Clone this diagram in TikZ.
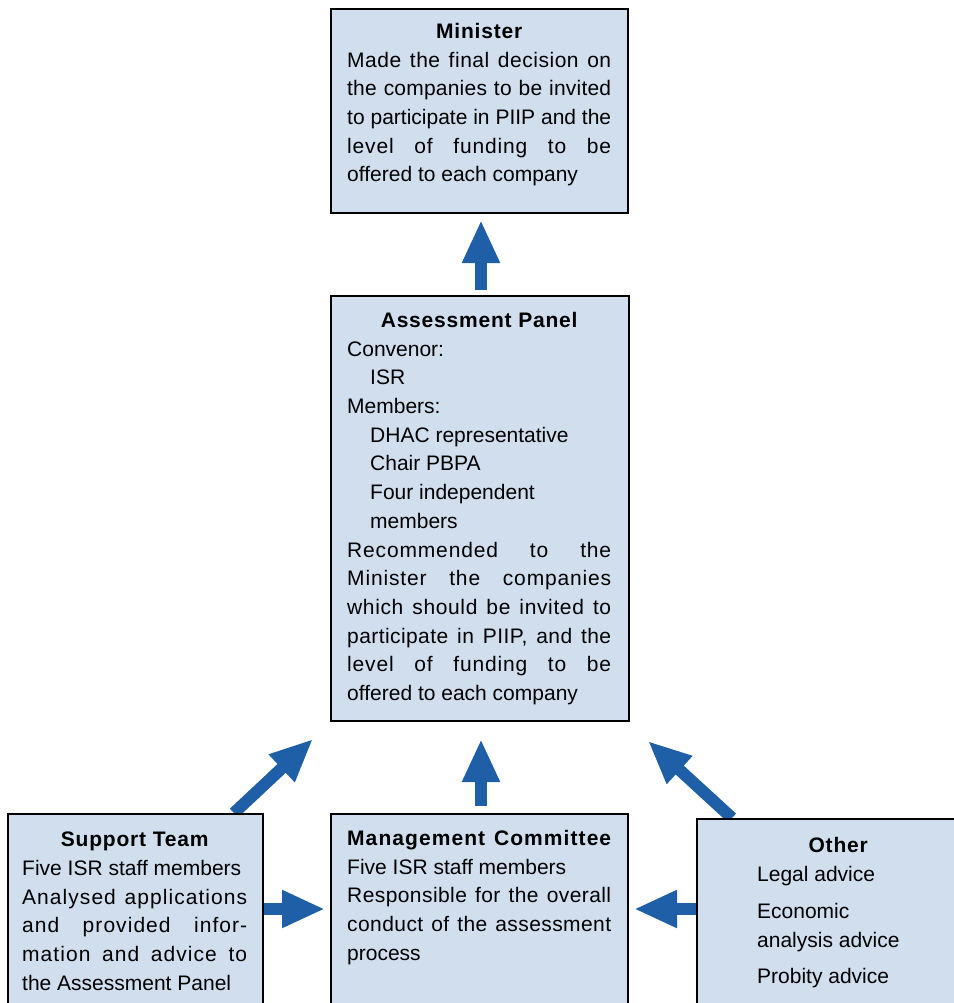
\documentclass[tikz,border=0pt]{standalone}
\usepackage{fontspec}
\setmainfont{Liberation Sans}
\newfontfamily\titlefont{Liberation Sans}[LetterSpace=3.8]
\usetikzlibrary{arrows.meta, positioning, calc, backgrounds}
\definecolor{panelfill}{HTML}{D0DEEE}
\definecolor{arrowblue}{HTML}{1F5FA8}
\newcommand{\fontspaces}{\spaceskip=0pt\xspaceskip=0pt\relax}
\newcommand{\jline}[2][0]{\makebox[\linewidth][s]{\fontspaces\addfontfeature{LetterSpace=#1}#2}}
\newcommand{\boxtitle}[1]{\makebox[\linewidth]{\titlefont\bfseries #1}}
\newcommand{\ind}{\hspace*{23pt}}

\begin{document}
\begin{tikzpicture}[x=1pt, y=-1pt, font=\fontsize{21}{28.7}\selectfont,
    panelbox/.style={draw=black, line width=2pt, fill=panelfill, anchor=north west, inner sep=0pt},
    boxtext/.style={anchor=north west, inner sep=0pt, align=left},
    bigarrow/.style={draw=arrowblue, line width=12pt, -{Triangle[length=43pt, width=35pt]}}]
    \useasboundingbox ({0},{0}) rectangle ({953},{1003});

    % boxes
    \node[panelbox, minimum width=297pt, minimum height=204pt] (minister) at ({330},{8}) {};
    \node[panelbox, minimum width=298pt, minimum height=425pt] (panel) at ({330},{295}) {};
    \node[panelbox, minimum width=297pt, minimum height=220pt] (mgmt) at ({330},{813}) {};
    \node[panelbox, minimum width=255pt, minimum height=220pt] (support) at ({7},{813}) {};
    \node[panelbox, minimum width=290pt, minimum height=220pt] (other) at ({696},{818}) {};

    % texts
    \node[boxtext, text width=264pt] (ministertxt) at ($(minister.north west)+(17,15)$) {\fontspaces
        \boxtitle{Minister}\\
        \jline[2.5]{Made the final decision on}\\
        \jline[1]{the companies to be invited}\\
        \jline{to participate in PIIP and the}\\
        \jline[4]{level of funding to be}\\
        offered to each company};
    \node[boxtext, text width=264pt] (paneltxt) at ($(panel.north west)+(17,17)$) {\fontspaces
        \boxtitle{Assessment Panel}\\
        Convenor:\\
        \ind ISR\\
        Members:\\
        \ind DHAC representative\\
        \ind Chair PBPA\\
        \ind Four independent\\
        \ind members\\
        \jline[4]{Recommended to the}\\
        \jline[4]{Minister the companies}\\
        \jline[3]{which should be invited to}\\
        \jline[2]{participate in PIIP, and the}\\
        \jline[4]{level of funding to be}\\
        offered to each company};
    \node[boxtext, text width=264pt] (mgmttxt) at ($(mgmt.north west)+(17,17)$) {\fontspaces
        \makebox[\linewidth][s]{\titlefont\bfseries\addfontfeature{LetterSpace=5.1} Management Committee}\\
        Five ISR staff members\\
        \jline[2]{Responsible for the overall}\\
        \jline[2]{conduct of the assessment}\\
        process};
    \node[boxtext, text width=225pt] (supporttxt) at ($(support.north west)+(15,19)$) {\fontspaces
        \boxtitle{Support Team}\\
        Five ISR staff members\\
        \jline[5]{Analysed applications}\\
        \jline[5]{and provided infor-}\\
        \jline[5]{mation and advice to}\\
        the Assessment Panel};
    \node[boxtext, text width=252pt] (othertxt) at ($(other.north west)+(16,19)$) {\fontspaces
        \boxtitle{Other}\\
        \hspace*{45pt}Legal advice\\[8.5pt]
        \hspace*{45pt}Economic\\
        \hspace*{45pt}analysis advice\\[7.5pt]
        \hspace*{45pt}Probity advice};

    % arrows
    \begin{scope}[on background layer]
        \draw[bigarrow] ($(panel.north)+(1,-5)$) -- ($(minister.south)+(1.5,6)$);
        \draw[bigarrow] ($(mgmt.north)+(1.5,-7)$) -- ($(panel.south)+(1,17)$);
        \draw[bigarrow] ($(support.north east)+(0,96)$) -- ($(mgmt.north west)+(-5,96)$);
        \draw[bigarrow] ($(other.north west)+(0,91)$) -- ($(mgmt.north east)+(5,96)$);
        \draw[bigarrow] ($(support.north east)+(-30,0)$) -- ($(panel.south west)+(-17,17)$);
        \draw[bigarrow] ($(other.north west)+(36,0)$) -- ($(panel.south east)+(18,19)$);
    \end{scope}
\end{tikzpicture}
\end{document}
